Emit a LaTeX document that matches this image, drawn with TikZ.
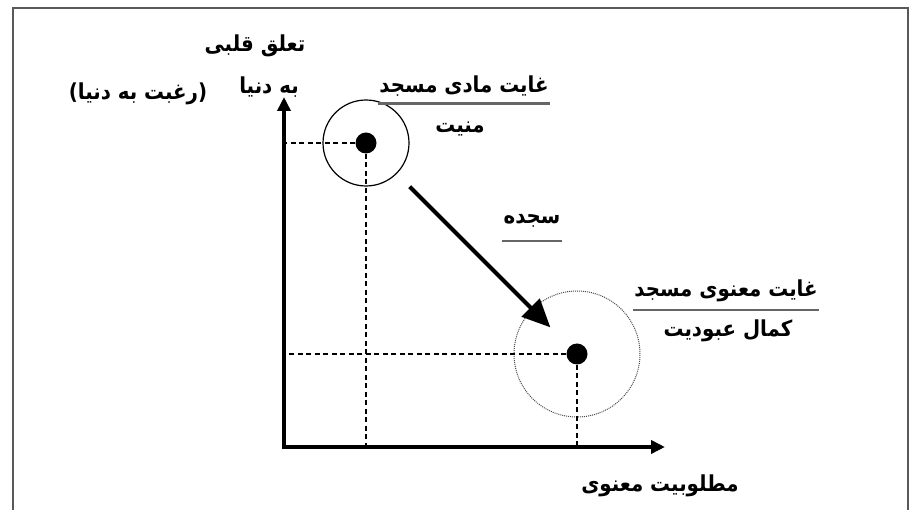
\documentclass[tikz,border=0pt]{standalone}
\usepackage{fontspec}
\newfontfamily\fa[Script=Arabic, FakeStretch=0.9]{DejaVu Sans}
\TeXXeTstate=1
\usetikzlibrary{arrows.meta}
\newcommand\fatxt[1]{\beginR #1\endR}

\begin{document}
\begin{tikzpicture}[x=1pt, y=-1pt,
    label/.style={font=\fa\bfseries\fontsize{22}{24}\selectfont, inner sep=1pt},
    uline/.style={draw=black!60, line width=2.2pt},
    axis/.style={line width=3.6pt, line join=miter, {Triangle[length=14pt,width=13pt]}-{Triangle[length=14pt,width=13pt]}},
    guide/.style={line width=1.3pt, dash pattern=on 5pt off 3.5pt},
    spot/.style={circle, fill, inner sep=0pt, minimum size=21pt},
    ring/.style={circle, draw, line width=1.2pt, inner sep=0pt},
    faintring/.style={circle, draw=black!70, line width=1pt, dash pattern=on 1pt off 1pt, inner sep=0pt},
    sajdearrow/.style={line width=4pt, -{Triangle[length=28pt,width=25pt]}}]
    \useasboundingbox (0,0) rectangle (911,510);
    %frame
    \draw[black!65, line width=1.6pt] (13,510) -- (13,8) -- (908,8) -- (908,510);
    %axes
    \coordinate (o) at (284,447);
    \coordinate (ytop) at (284,97);
    \coordinate (xend) at (665,447);
    \draw[axis] (ytop) -- (o) -- (xend);
    %points
    \node[ring, minimum size=86pt] (c1) at (366,143) {};
    \node[spot] (m1) at (366,143) {};
    \node[faintring, minimum size=126pt] (c2) at (577,354) {};
    \node[spot] (m2) at (577,354) {};
    \draw[guide] (m1) -- (m1 -| o);
    \draw[guide] (m1) -- (m1 |- o);
    \draw[guide] (m2) -- (m2 -| o);
    \draw[guide] (m2) -- (m2 |- o);
    \draw[sajdearrow, shorten <=51pt, shorten >=27pt] (m1) -- (m2);
    %labels
    \node[label] (qalb) at (255,46) {\fatxt{تعلق قلبی}};
    \node[label] (donya) at (269,87) {\fatxt{به دنیا}};
    \node[label] (raghbat) at (138,94) {\fatxt{(رغبت به دنیا)}};
    \node[label] (ghayat1) at (464,86) {\fatxt{غایت مادی مسجد}};
    \draw[uline] ([yshift=-11pt]ghayat1.base west) -- ([yshift=-11pt]ghayat1.base east);
    \node[label] (maniyat) at (460,129) {\fatxt{منیت}};
    \node[label] (sajde) at (532,221) {\fatxt{سجده}};
    \draw[uline] ([yshift=-17pt]sajde.base west) -- ([yshift=-17pt]sajde.base east);
    \node[label] (ghayat2) at (726,291) {\fatxt{غایت معنوی مسجد}};
    \draw[uline] ([yshift=-13pt]ghayat2.base west) -- ([yshift=-13pt]ghayat2.base east);
    \node[label] (kamal) at (728,331) {\fatxt{کمال عبودیت}};
    \node[label] (matlub) at (660,486) {\fatxt{مطلوبیت معنوی}};
\end{tikzpicture}
\end{document}
